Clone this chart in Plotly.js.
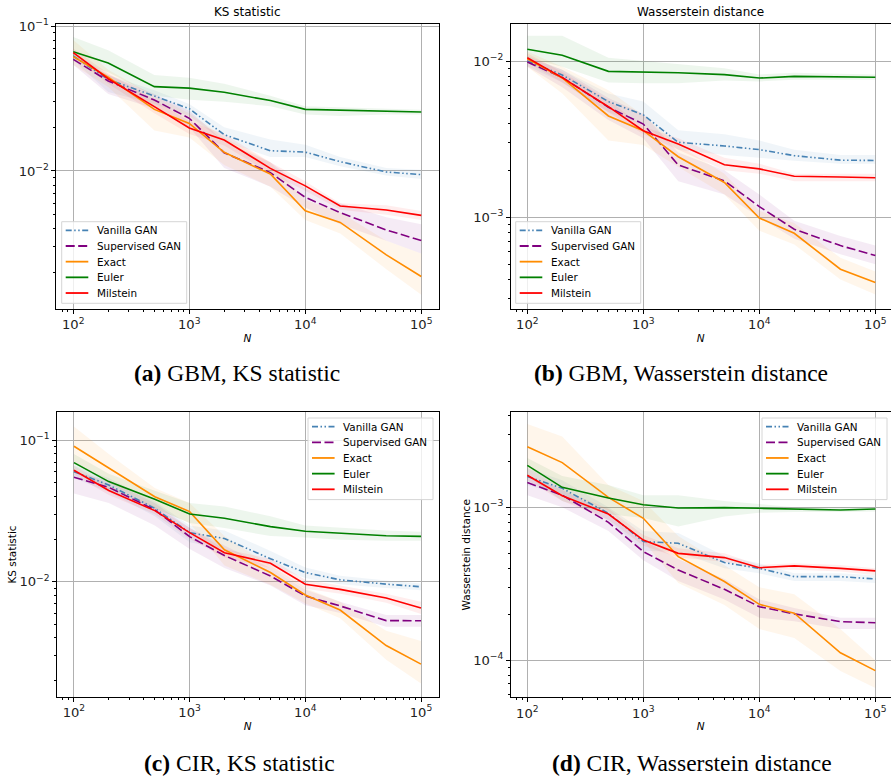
<!DOCTYPE html>
<html>
<head>
<meta charset="utf-8">
<script src="https://cdn.plot.ly/plotly-3.0.1.min.js"></script>
<style>html,body{margin:0;padding:0;background:#fff}#chart{width:891px;height:779px}</style>
</head>
<body>
<div id="chart"></div>
<script>
// ---------------- DATA ----------------
const N = [100, 200, 500, 1000, 2000, 5000, 10000, 20000, 50000, 100000];
const seriesNames = ['Vanilla GAN', 'Supervised GAN', 'Exact', 'Euler', 'Milstein'];

// (a) GBM, KS statistic  — rows: Vanilla, Supervised, Exact, Euler, Milstein
const gbmKsMean = [
  [0.0621, 0.0428, 0.0329, 0.0269, 0.0178, 0.0138, 0.0135, 0.0116, 0.00984, 0.00944],
  [0.0589, 0.0418, 0.0309, 0.0231, 0.01337, 0.00975, 0.00658, 0.00516, 0.00392, 0.00331],
  [0.0615, 0.0443, 0.0266, 0.0213, 0.01346, 0.00953, 0.00532, 0.00442, 0.00264, 0.00187],
  [0.0665, 0.0556, 0.0382, 0.0373, 0.0349, 0.0306, 0.0266, 0.0263, 0.0261, 0.0255],
  [0.0655, 0.0433, 0.0278, 0.0198, 0.01637, 0.01043, 0.00789, 0.00574, 0.00538, 0.00494]
];
const gbmKsLow = [
  [0.058, 0.035, 0.029, 0.024, 0.016, 0.0125, 0.0125, 0.0108, 0.0093, 0.0088],
  [0.054, 0.034, 0.027, 0.020, 0.0105, 0.0078, 0.0056, 0.0043, 0.0033, 0.0027],
  [0.054, 0.038, 0.019, 0.017, 0.011, 0.0078, 0.0046, 0.0037, 0.0021, 0.0014],
  [0.058, 0.048, 0.033, 0.031, 0.030, 0.028, 0.0245, 0.024, 0.0245, 0.0245],
  [0.061, 0.040, 0.025, 0.018, 0.015, 0.0096, 0.0073, 0.0054, 0.0050, 0.0046]
];
const gbmKsHigh = [
  [0.066, 0.046, 0.036, 0.029, 0.020, 0.0165, 0.0152, 0.0125, 0.0105, 0.0102],
  [0.063, 0.046, 0.034, 0.026, 0.016, 0.0115, 0.0076, 0.006, 0.0048, 0.0043],
  [0.080, 0.050, 0.033, 0.025, 0.017, 0.0115, 0.0063, 0.0052, 0.0033, 0.0027],
  [0.084, 0.068, 0.046, 0.044, 0.040, 0.033, 0.028, 0.0275, 0.027, 0.0265],
  [0.070, 0.047, 0.031, 0.022, 0.018, 0.0115, 0.0085, 0.006, 0.0058, 0.0053]
];

// (b) GBM, Wasserstein distance
const gbmWdMean = [
  [0.0100, 0.00814, 0.0055, 0.00452, 0.00302, 0.00286, 0.00271, 0.00248, 0.00232, 0.00231],
  [0.00985, 0.00786, 0.00506, 0.00395, 0.00216, 0.00171, 0.00117, 0.000838, 0.000659, 0.000569],
  [0.01035, 0.00779, 0.00445, 0.00358, 0.00244, 0.00167, 0.00099, 0.00079, 0.000465, 0.000382],
  [0.0119, 0.0109, 0.00859, 0.00855, 0.00842, 0.00818, 0.00778, 0.00798, 0.0079, 0.00787],
  [0.0105, 0.00783, 0.0051, 0.00358, 0.00294, 0.00217, 0.00204, 0.00183, 0.00181, 0.00179]
];
const gbmWdLow = [
  [0.0093, 0.0073, 0.0047, 0.0039, 0.0027, 0.0025, 0.0024, 0.0023, 0.0022, 0.0022],
  [0.0092, 0.0068, 0.0042, 0.0032, 0.0017, 0.0014, 0.0010, 0.00073, 0.00058, 0.0005],
  [0.0092, 0.0062, 0.0031, 0.0029, 0.0021, 0.0014, 0.00082, 0.00067, 0.0004, 0.00032],
  [0.0105, 0.0092, 0.0073, 0.0072, 0.0072, 0.0075, 0.0074, 0.0076, 0.0076, 0.0076],
  [0.0098, 0.0073, 0.0047, 0.0034, 0.0027, 0.0020, 0.0019, 0.0017, 0.0017, 0.0017]
];
const gbmWdHigh = [
  [0.0108, 0.0088, 0.0062, 0.0055, 0.0036, 0.0034, 0.0031, 0.0027, 0.0025, 0.0025],
  [0.0106, 0.0088, 0.0058, 0.0046, 0.0026, 0.0020, 0.0014, 0.00095, 0.00076, 0.00066],
  [0.0115, 0.0092, 0.0065, 0.0045, 0.0029, 0.0019, 0.0011, 0.00092, 0.00055, 0.00045],
  [0.0145, 0.0145, 0.0105, 0.0100, 0.0095, 0.0090, 0.0082, 0.0084, 0.0083, 0.0082],
  [0.0112, 0.0085, 0.0056, 0.0038, 0.0032, 0.0024, 0.0022, 0.0019, 0.0019, 0.0019]
];

// (c) CIR, KS statistic
const cirKsMean = [
  [0.0600, 0.0483, 0.0330, 0.0222, 0.0202, 0.0145, 0.0116, 0.0103, 0.0096, 0.0092],
  [0.0547, 0.0465, 0.0322, 0.0208, 0.0153, 0.01096, 0.00792, 0.00673, 0.0053, 0.00529],
  [0.0907, 0.0636, 0.0399, 0.0313, 0.0168, 0.0116, 0.00805, 0.0063, 0.00353, 0.00261],
  [0.0695, 0.0510, 0.0383, 0.0301, 0.0281, 0.0245, 0.0227, 0.0220, 0.0211, 0.0209],
  [0.0614, 0.0441, 0.0318, 0.0222, 0.0160, 0.0135, 0.00958, 0.00882, 0.00766, 0.00651]
];
const cirKsLow = [
  [0.054, 0.043, 0.029, 0.019, 0.017, 0.013, 0.0106, 0.0096, 0.009, 0.0087],
  [0.042, 0.036, 0.025, 0.017, 0.0125, 0.0094, 0.0068, 0.006, 0.0048, 0.0048],
  [0.070, 0.050, 0.033, 0.026, 0.013, 0.0095, 0.007, 0.0055, 0.0028, 0.0019],
  [0.060, 0.045, 0.033, 0.026, 0.024, 0.021, 0.0205, 0.0198, 0.0195, 0.0195],
  [0.057, 0.041, 0.030, 0.020, 0.0148, 0.0125, 0.0089, 0.0082, 0.0071, 0.0059]
];
const cirKsHigh = [
  [0.066, 0.054, 0.037, 0.025, 0.023, 0.0165, 0.0126, 0.011, 0.0102, 0.0097],
  [0.060, 0.052, 0.036, 0.024, 0.018, 0.0125, 0.0088, 0.0072, 0.0058, 0.0058],
  [0.125, 0.080, 0.046, 0.036, 0.021, 0.013, 0.009, 0.0072, 0.0045, 0.0038],
  [0.080, 0.058, 0.044, 0.036, 0.034, 0.029, 0.025, 0.024, 0.023, 0.0225],
  [0.066, 0.048, 0.034, 0.024, 0.017, 0.0145, 0.0103, 0.0094, 0.0082, 0.0072]
];

// (d) CIR, Wasserstein distance
const cirWdMean = [
  [0.00159, 0.00133, 0.000914, 0.000597, 0.000582, 0.000435, 0.000399, 0.000352, 0.000352, 0.00034],
  [0.00145, 0.0012, 0.000798, 0.000513, 0.000389, 0.000291, 0.000224, 0.000201, 0.000179, 0.000176],
  [0.00249, 0.00196, 0.00116, 0.000847, 0.000476, 0.000327, 0.000232, 0.000203, 0.000112, 0.0000856],
  [0.00188, 0.00135, 0.00115, 0.00104, 0.00099, 0.000995, 0.000985, 0.00097, 0.00096, 0.000975],
  [0.00162, 0.00119, 0.000904, 0.000611, 0.0005, 0.000469, 0.000403, 0.000414, 0.000399, 0.000384]
];
const cirWdLow = [
  [0.0014, 0.0012, 0.00082, 0.00052, 0.00051, 0.0004, 0.00037, 0.00033, 0.00033, 0.00032],
  [0.0012, 0.0010, 0.0007, 0.00045, 0.00033, 0.00025, 0.00019, 0.00018, 0.00016, 0.00016],
  [0.0018, 0.0013, 0.00095, 0.0006, 0.00032, 0.00023, 0.00016, 0.00014, 0.000085, 0.000066],
  [0.0016, 0.0011, 0.0009, 0.00085, 0.00075, 0.00087, 0.00092, 0.00093, 0.00093, 0.00094],
  [0.0015, 0.0011, 0.00083, 0.00056, 0.00047, 0.00044, 0.00039, 0.00039, 0.00038, 0.00036]
];
const cirWdHigh = [
  [0.0018, 0.0015, 0.0010, 0.0007, 0.00068, 0.00048, 0.00043, 0.00037, 0.00037, 0.00036],
  [0.0016, 0.0013, 0.00091, 0.00061, 0.00046, 0.00034, 0.00025, 0.00022, 0.00019, 0.00019],
  [0.0035, 0.0029, 0.0014, 0.0011, 0.00065, 0.00042, 0.0003, 0.00027, 0.00016, 0.0001],
  [0.0021, 0.0016, 0.0014, 0.0012, 0.0012, 0.0011, 0.00105, 0.0010, 0.0010, 0.0010],
  [0.0018, 0.0013, 0.00098, 0.00066, 0.00054, 0.0005, 0.00042, 0.00043, 0.00042, 0.0004]
];

const panelTitles = ['KS statistic', 'Wasserstein distance', '', ''];
const yTitles = ['', '', 'KS statistic', 'Wasserstein distance'];
const captions = ['<b>(a)</b> GBM, KS statistic', '<b>(b)</b> GBM, Wasserstein distance',
                  '<b>(c)</b> CIR, KS statistic', '<b>(d)</b> CIR, Wasserstein distance'];

// ---------------- STYLE ----------------
const colors = ['#4682b4', '#800080', '#ff8c00', '#008000', '#ff0000'];
const fills = ['rgba(70,130,180,0.08)', 'rgba(128,0,128,0.08)', 'rgba(255,140,0,0.08)', 'rgba(0,128,0,0.07)', 'rgba(255,0,0,0.07)'];
const dashes = ['6px,2.5px,1.5px,2.5px,1.5px,2.5px', '9px,3.5px', 'solid', 'solid', 'solid'];

const panels = [
  {mean: gbmKsMean, low: gbmKsLow, high: gbmKsHigh},
  {mean: gbmWdMean, low: gbmWdLow, high: gbmWdHigh},
  {mean: cirKsMean, low: cirKsLow, high: cirKsHigh},
  {mean: cirWdMean, low: cirWdLow, high: cirWdHigh}
];

const W = 891, H = 779;
const px = (a, b) => [a / W, b / W];
const py = (top, bottom) => [(H - bottom) / H, (H - top) / H];
const xDomains = [px(56, 439), px(510.5, 891), px(56.7, 438.7), px(510.5, 891)];
const yDomains = [py(24, 309), py(24.3, 309), py(412.3, 696.7), py(412.3, 697.3)];
const xRanges = [[1.851, 5.153], [1.855, 5.135], [1.851, 5.153], [1.855, 5.135]];
const yRanges = [[-2.952, -0.986], [-3.587, -1.765], [-2.814, -0.802], [-4.242, -2.379]];
// legend boxes (left, top) in pixels
const legendBoxes = [[61.7, 221.7], [515.7, 221.7], [308, 418], [762, 418]];

const FONT = 'DejaVu Sans, sans-serif';
const traces = [];
panels.forEach((p, k) => {
  const xa = k === 0 ? 'x' : 'x' + (k + 1);
  const ya = k === 0 ? 'y' : 'y' + (k + 1);
  for (let i = 0; i < seriesNames.length; i++) {
    traces.push({x: N, y: p.high[i], xaxis: xa, yaxis: ya, mode: 'lines',
      line: {width: 0, color: colors[i]}, showlegend: false, hoverinfo: 'skip'});
    traces.push({x: N, y: p.low[i], xaxis: xa, yaxis: ya, mode: 'lines', fill: 'tonexty',
      fillcolor: fills[i], line: {width: 0, color: colors[i]}, showlegend: false, hoverinfo: 'skip'});
  }
  for (let i = 0; i < seriesNames.length; i++) {
    traces.push({x: N, y: p.mean[i], xaxis: xa, yaxis: ya, mode: 'lines', name: seriesNames[i],
      showlegend: false, line: {width: 1.6, color: colors[i], dash: dashes[i]}});
  }
});

const layout = {
  width: W, height: H, margin: {l: 0, r: 0, t: 0, b: 0},
  paper_bgcolor: '#fff', plot_bgcolor: '#fff',
  font: {family: FONT, size: 10.5, color: '#000'},
  annotations: [], shapes: [], showlegend: false
};

for (let k = 0; k < 4; k++) {
  const sfx = k === 0 ? '' : String(k + 1);
  const common = {
    type: 'log', showline: true, mirror: true, linecolor: '#000', linewidth: 1,
    ticks: 'outside', ticklen: 4, tickcolor: '#000', tickwidth: 1,
    showgrid: true, gridcolor: '#b0b0b0', gridwidth: 1, zeroline: false,
    dtick: 1, exponentformat: 'power', showexponent: 'all',
    tickfont: {family: FONT, size: 10.5, color: '#222'},
    minor: {ticks: 'outside', ticklen: 2, tickcolor: '#000', dtick: 'D1', showgrid: false}
  };
  layout['xaxis' + sfx] = Object.assign({}, common, {
    domain: xDomains[k], range: xRanges[k], anchor: 'y' + sfx,
    title: {text: '<i>N</i>', font: {family: FONT, size: 10.5}, standoff: 3}
  });
  layout['yaxis' + sfx] = Object.assign({}, common, {
    domain: yDomains[k], range: yRanges[k], anchor: 'x' + sfx,
    title: {text: yTitles[k], font: {family: FONT, size: 10.5}, standoff: 0}
  });
  if (panelTitles[k]) {
    layout.annotations.push({text: panelTitles[k], xref: 'paper', yref: 'paper',
      x: (xDomains[k][0] + Math.min(xDomains[k][1], (xDomains[k][0] * W + 382) / W)) / 2,
      y: yDomains[k][1], xanchor: 'center', yanchor: 'bottom', yshift: 3, showarrow: false,
      font: {family: FONT, size: 12}});
  }
  // legend box drawn with shapes + annotations
  const [L, T] = legendBoxes[k];
  layout.shapes.push({type: 'rect', xref: 'paper', yref: 'paper', layer: 'above',
    x0: L / W, x1: (L + 125) / W, y0: (H - T) / H, y1: (H - T - 81.6) / H,
    fillcolor: 'rgba(255,255,255,0.8)', line: {color: '#d6d6d6', width: 1}});
  for (let i = 0; i < seriesNames.length; i++) {
    const yy = (H - (T + 8.6 + i * 15.68)) / H;
    layout.shapes.push({type: 'line', xref: 'paper', yref: 'paper', layer: 'above',
      x0: (L + 4) / W, x1: (L + 26.6) / W, y0: yy, y1: yy,
      line: {color: colors[i], width: 1.8, dash: dashes[i]}});
    layout.annotations.push({text: seriesNames[i], xref: 'paper', yref: 'paper',
      x: (L + 33) / W, y: yy, xanchor: 'left', yanchor: 'middle', showarrow: false,
      font: {family: FONT, size: 10.4, color: '#000'}});
  }
}

const capFont = {family: 'Liberation Serif, serif', size: 23.5, color: '#000'};
layout.annotations.push(
  {text: captions[0], xref: 'paper', yref: 'paper', x: 237 / W, y: (H - 373) / H, showarrow: false, xanchor: 'center', yanchor: 'middle', font: capFont},
  {text: captions[1], xref: 'paper', yref: 'paper', x: 681 / W, y: (H - 373) / H, showarrow: false, xanchor: 'center', yanchor: 'middle', font: capFont},
  {text: captions[2], xref: 'paper', yref: 'paper', x: 239 / W, y: (H - 763) / H, showarrow: false, xanchor: 'center', yanchor: 'middle', font: capFont},
  {text: captions[3], xref: 'paper', yref: 'paper', x: 692 / W, y: (H - 763) / H, showarrow: false, xanchor: 'center', yanchor: 'middle', font: capFont}
);

Plotly.newPlot('chart', traces, layout, {displayModeBar: false, staticPlot: true});
</script>
</body>
</html>
